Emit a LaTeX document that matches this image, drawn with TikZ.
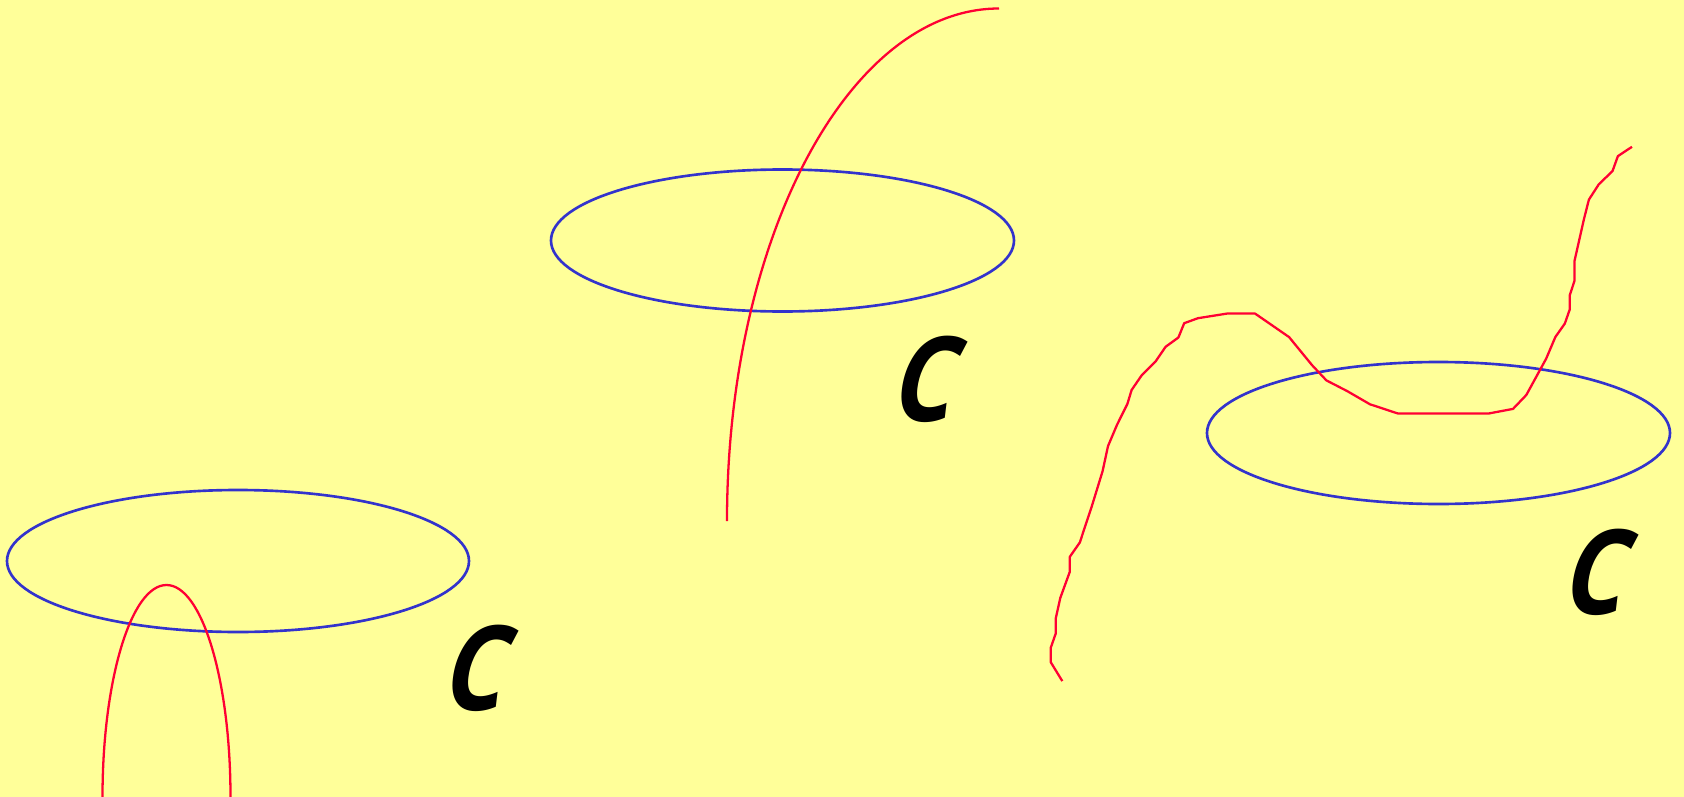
\documentclass[tikz,border=0pt]{standalone}
\usepackage{fontspec}
\newfontfamily\labelfont[FakeSlant=0.12, FakeStretch=0.86]{Open Sans}
\definecolor{bgyellow}{HTML}{FFFF99}
\definecolor{curvered}{HTML}{FF0033}
\definecolor{loopblue}{HTML}{3333CC}
\usepackage{tikz}

\begin{document}
\begin{tikzpicture}[
  x=0.01cm, y=-0.01cm,
  loop/.style={draw=loopblue, line width=0.75pt},
  curve/.style={draw=curvered, line width=0.65pt, line join=round},
  lbl/.style={font=\labelfont\bfseries\itshape\fontsize{33.5}{40}\selectfont, anchor=base, inner sep=0pt}
]

% background
\fill[bgyellow] (0,0) rectangle (1684,797);
\useasboundingbox (0,0) rectangle (1684,797);

% left: curve pokes into the loop and back out
\draw[loop] (238,561) ellipse [x radius=231, y radius=71];
\draw[curve] (102.5,797) arc [start angle=180, end angle=360, x radius=64, y radius=212];
\node[lbl] (c-left) at (474,710) {C};

% middle: curve passes once through the loop
\draw[loop] (782.5,240.5) ellipse [x radius=231.5, y radius=71];
\draw[curve] (727,521) arc [start angle=180, end angle=270, x radius=272, y radius=512.5];
\node[lbl] (c-mid) at (923,421) {C};

% right: wiggly curve passes through the loop
\draw[loop] (1438.5,433) ellipse [x radius=231.5, y radius=71];
\draw[curve] (1062.3,681.1) -- (1050.7,662.1) -- (1050.7,647.9) -- (1055.7,633.6)
  -- (1055.7,618.6) -- (1060.3,597.9) -- (1069.8,571.8) -- (1069.8,556.8)
  -- (1079.8,542.5) -- (1092.2,505) -- (1102.6,471.1) -- (1108,446.1)
  -- (1117.1,424.6) -- (1127.4,403.9) -- (1131.6,390) -- (1141.9,375)
  -- (1155.6,361.4) -- (1165.6,346.8) -- (1178.4,337.5) -- (1184.2,323.2)
  -- (1197.9,318.2) -- (1226.9,313.6) -- (1255.1,313.6) -- (1269.6,323.6)
  -- (1289.1,337.1) -- (1311.9,365) -- (1326.4,380.4) -- (1347.2,391.1)
  -- (1370,404.3) -- (1398.2,413.6) -- (1488.1,413.6) -- (1513,408.9)
  -- (1526.3,395) -- (1546.2,358.6) -- (1555.3,337.1) -- (1564.8,323.6)
  -- (1569.8,309.3) -- (1569.8,295) -- (1574.4,281.1) -- (1574.4,261.4)
  -- (1583.9,219.3) -- (1588.9,199.6) -- (1598.8,184.3) -- (1612.5,171.1)
  -- (1617.9,156.1) -- (1632,146.8);
\node[lbl] (c-right) at (1594,614) {C};

\end{tikzpicture}
\end{document}
